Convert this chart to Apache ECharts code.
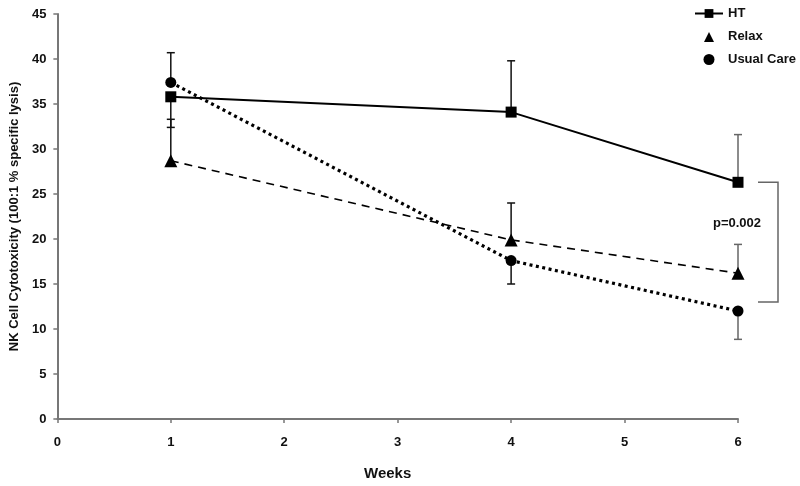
<!DOCTYPE html>
<html><head><meta charset="utf-8">
<script src="https://cdn.jsdelivr.net/npm/echarts@6/dist/echarts.min.js"></script>
<style>html,body{margin:0;padding:0;background:#fff}#c{width:800px;height:486px}</style>
</head><body><div id="c"></div>
<script>
// ---- data ----
const weeks = [1, 4, 6];
const htValues = [35.8, 34.1, 26.3];
const relaxValues = [28.7, 19.9, 16.2];
const usualValues = [37.4, 17.6, 12.0];
// error bar far ends (one-sided)
const htErrEnd = [32.4, 39.8, 31.6];
const relaxErrEnd = [33.3, 24.0, 19.4];
const usualErrEnd = [40.7, 15.0, 8.85];
const xTicks = [0, 1, 2, 3, 4, 5, 6];
const yTicks = [0, 5, 10, 15, 20, 25, 30, 35, 40, 45];
// bracket comparing HT vs Usual Care at week 6
const bracketWeek = 6;
const bracketTop = 26.3;
const bracketBottom = 13.0;
const pLabel = 'p=0.002';
const pLabelY = 21.7;

const FONT = 'Arial, "Liberation Sans", sans-serif';
const chart = echarts.init(document.getElementById('c'));

function errData(vals, ends) {
  return weeks.map((w, i) => ({ value: [w, vals[i], ends[i]], errColor: w === 6 ? '#666' : '#111' }));
}
const errBars = [].concat(errData(htValues, htErrEnd), errData(relaxValues, relaxErrEnd), errData(usualValues, usualErrEnd));

function renderErr(params, api) {
  const x = api.value(0), y0 = api.value(1), y1 = api.value(2);
  const p0 = api.coord([x, y0]), p1 = api.coord([x, y1]);
  const col = errBars[params.dataIndex].errColor;
  return {
    type: 'group',
    children: [
      { type: 'line', shape: { x1: p0[0], y1: p0[1], x2: p1[0], y2: p1[1] }, style: { stroke: col, lineWidth: 1.5 } },
      { type: 'line', shape: { x1: p1[0] - 4, y1: p1[1], x2: p1[0] + 4, y2: p1[1] }, style: { stroke: col, lineWidth: 1.5 } }
    ]
  };
}

function renderBracket(params, api) {
  const a = api.coord([api.value(0), api.value(1)]);
  const b = api.coord([api.value(0), api.value(2)]);
  const t = api.coord([api.value(0), api.value(3)]);
  return {
    type: 'group',
    children: [
      { type: 'polyline', shape: { points: [[a[0] + 20, a[1]], [a[0] + 40, a[1]], [b[0] + 40, b[1]], [b[0] + 20, b[1]]] },
        style: { stroke: '#666', lineWidth: 1.5, fill: null } },
      { type: 'text', x: t[0] - 1, y: t[1], style: { text: pLabel, fill: '#111', font: 'bold 13px ' + FONT, align: 'center', verticalAlign: 'middle' } }
    ]
  };
}

const pair = (vals) => weeks.map((w, i) => [w, vals[i]]);
const legendTriangle = 'path://M0,0 M28,11 M9,11 L14,1 L19,11 Z';

chart.setOption({
  animation: false,
  backgroundColor: '#fff',
  grid: { left: 56, right: 62, top: 14, bottom: 67 },
  legend: {
    orient: 'vertical', left: 694, top: 7, padding: 0,
    itemWidth: 28, itemHeight: 11, itemGap: 10,
    textStyle: { fontFamily: FONT, fontWeight: 'bold', fontSize: 13, color: '#111' },
    data: [{ name: 'HT' }, { name: 'Relax', icon: legendTriangle }, { name: 'Usual Care', icon: 'circle' }]
  },
  xAxis: {
    type: 'value', min: xTicks[0], max: xTicks[xTicks.length - 1], interval: 1,
    name: 'Weeks', nameLocation: 'middle', nameGap: 47,
    nameTextStyle: { fontFamily: FONT, fontWeight: 'bold', fontSize: 15, color: '#111', padding: [0, 20, 0, 0] },
    axisLine: { lineStyle: { color: '#777', width: 2 } },
    axisTick: { show: true, length: 4, lineStyle: { color: '#777', width: 1.5 } },
    axisLabel: { fontFamily: FONT, fontWeight: 'bold', fontSize: 13, color: '#111', margin: 17 },
    splitLine: { show: false }
  },
  yAxis: {
    type: 'value', min: yTicks[0], max: yTicks[yTicks.length - 1], interval: 5,
    name: 'NK Cell Cytotoxicity (100:1 % specific lysis)', nameLocation: 'middle', nameGap: 36,
    nameTextStyle: { fontFamily: FONT, fontWeight: 'bold', fontSize: 13, color: '#111' },
    axisLine: { show: true, lineStyle: { color: '#777', width: 2 } },
    axisTick: { show: true, length: 4, lineStyle: { color: '#777', width: 1.5 } },
    axisLabel: { fontFamily: FONT, fontWeight: 'bold', fontSize: 13, color: '#111', margin: 11 },
    splitLine: { show: false }
  },
  series: [
    { type: 'custom', name: 'err', renderItem: renderErr, data: errBars.map(d => d.value), z: 1, silent: true, clip: false },
    { type: 'custom', name: 'bracket', renderItem: renderBracket, data: [[bracketWeek, bracketTop, bracketBottom, pLabelY]], z: 1, silent: true, clip: false },
    { type: 'line', name: 'HT', data: pair(htValues), symbol: 'rect', symbolSize: 11,
      itemStyle: { color: '#000' }, lineStyle: { color: '#000', width: 2 }, z: 3 },
    { type: 'line', name: 'Relax', data: pair(relaxValues), symbol: 'triangle', symbolSize: 13,
      itemStyle: { color: '#000' }, lineStyle: { color: '#000', width: 1.6, type: [8, 6] }, z: 3 },
    { type: 'line', name: 'Usual Care', data: pair(usualValues), symbol: 'circle', symbolSize: 11,
      itemStyle: { color: '#000' }, lineStyle: { color: '#000', width: 3.2, type: [3, 3.5] }, z: 3 }
  ]
});
</script></body></html>
